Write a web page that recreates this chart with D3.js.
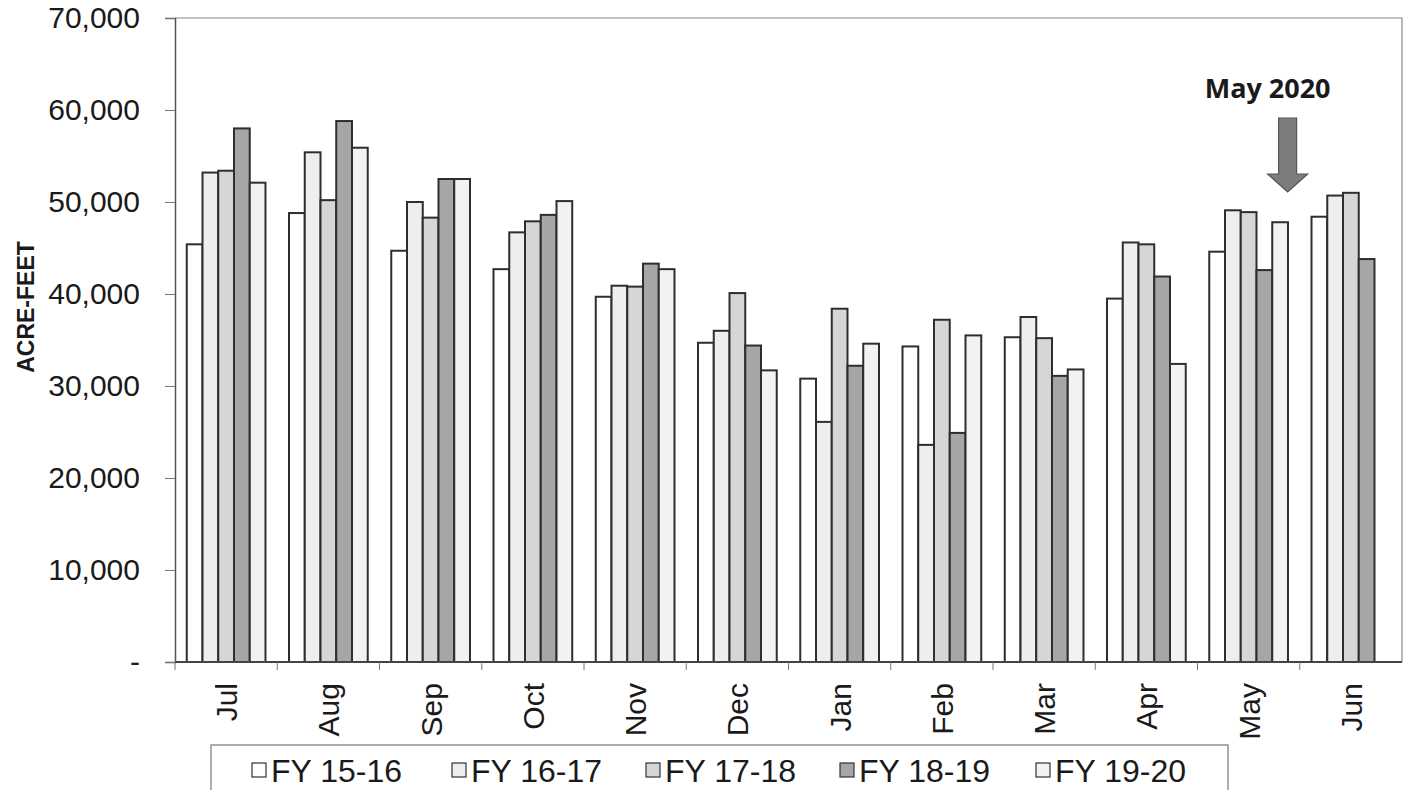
<!DOCTYPE html>
<html>
<head>
<meta charset="utf-8">
<script src="https://cdn.jsdelivr.net/npm/d3@7"></script>
<style>
  html, body { margin: 0; padding: 0; background: #ffffff; }
  svg { display: block; }
</style>
</head>
<body>
<svg id="chart" width="1403" height="790"></svg>
<script>
// Monthly deliveries (acre-feet) by fiscal year
const months = ["Jul", "Aug", "Sep", "Oct", "Nov", "Dec", "Jan", "Feb", "Mar", "Apr", "May", "Jun"];
const seriesNames = ["FY 15-16", "FY 16-17", "FY 17-18", "FY 18-19", "FY 19-20"];
const fy1516 = [45400, 48800, 44700, 42700, 39700, 34700, 30800, 34300, 35300, 39500, 44600, 48400];
const fy1617 = [53200, 55400, 50000, 46700, 40900, 36000, 26100, 23600, 37500, 45600, 49100, 50700];
const fy1718 = [53400, 50200, 48300, 47900, 40800, 40100, 38400, 37200, 35200, 45400, 48900, 51000];
const fy1819 = [58000, 58800, 52500, 48600, 43300, 34400, 32200, 24900, 31100, 41900, 42600, 43800];
const fy1920 = [52100, 55900, 52500, 50100, 42700, 31700, 34600, 35500, 31800, 32400, 47800, null];
const yTicks = [0, 10000, 20000, 30000, 40000, 50000, 60000, 70000];
const fills = ["#ffffff", "#eeeeee", "#d6d6d6", "#a6a6a6", "#f2f2f2"];

const seriesValues = [fy1516, fy1617, fy1718, fy1819, fy1920];

const svg = d3.select("#chart");
const margin = { left: 175, top: 18, right: 1402, bottom: 662 };
const font = "Liberation Sans, Arial, sans-serif";

const x = d3.scaleBand().domain(months).range([margin.left, margin.right]).paddingInner(0.23).paddingOuter(0.115);
const xFull = d3.scaleBand().domain(months).range([margin.left, margin.right]);
const xs = d3.scaleBand().domain(seriesNames).range([0, x.bandwidth()]);
const y = d3.scaleLinear().domain([0, 70000]).range([margin.bottom, margin.top]);

// plot frame (top and right edges)
svg.append("path")
  .attr("d", `M${margin.left},${margin.top}H${margin.right}V${margin.bottom}`)
  .attr("fill", "none").attr("stroke", "#8a8a8a").attr("stroke-width", 1.2);

// bars
const groups = svg.append("g").selectAll("g")
  .data(months).join("g")
  .attr("transform", m => `translate(${x(m)},0)`);

groups.selectAll("rect")
  .data((m, i) => seriesNames.map((s, j) => ({ s, j, v: seriesValues[j][i] })).filter(d => d.v != null))
  .join("rect")
  .attr("x", d => xs(d.s))
  .attr("y", d => y(d.v))
  .attr("width", xs.bandwidth())
  .attr("height", d => y(0) - y(d.v))
  .attr("fill", d => fills[d.j])
  .attr("stroke", "#2e2e2e")
  .attr("stroke-width", 2);

// y axis
const yAxis = d3.axisLeft(y).tickValues(yTicks).tickSize(10).tickPadding(25)
  .tickFormat(v => v === 0 ? "-" : d3.format(",")(v));
const gy = svg.append("g").attr("transform", `translate(${margin.left},0)`).call(yAxis);
gy.select(".domain").attr("stroke", "#555").attr("stroke-width", 1.5);
gy.selectAll(".tick line").attr("stroke", "#777");
gy.selectAll("text").attr("font-family", font)
  .attr("font-size", 30).attr("fill", "#1a1a1a");

// x axis: ticks on category boundaries
const gx = svg.append("g").attr("transform", `translate(0,${margin.bottom})`);
gx.append("line").attr("x1", margin.left).attr("x2", margin.right)
  .attr("stroke", "#444").attr("stroke-width", 2);
gx.selectAll(".tk").data(months).join("line").attr("class", "tk")
  .attr("x1", m => xFull(m)).attr("x2", m => xFull(m))
  .attr("y1", 0).attr("y2", 8).attr("stroke", "#777");
gx.selectAll(".lbl").data(months).join("text").attr("class", "lbl")
  .attr("transform", m => `translate(${xFull(m) + xFull.bandwidth() / 2 + 11},21) rotate(-90)`)
  .attr("text-anchor", "end")
  .attr("font-family", font)
  .attr("font-size", 30).attr("fill", "#1a1a1a")
  .text(m => m);

// y axis title
svg.append("text")
  .attr("transform", "translate(34,307) rotate(-90)")
  .attr("text-anchor", "middle")
  .attr("font-family", font)
  .attr("font-weight", "bold").attr("font-size", 23).attr("fill", "#1a1a1a")
  .text("ACRE-FEET");

// annotation: current month marker
const ax = xFull("May") + xFull.bandwidth() / 2 + 39;
svg.append("text")
  .attr("x", ax - 20).attr("y", 98)
  .attr("text-anchor", "middle")
  .attr("font-family", "Open Sans, Lato, sans-serif")
  .attr("font-weight", "bold").attr("font-size", 27).attr("fill", "#1a1a1a")
  .text("May 2020");
svg.append("path")
  .attr("d", `M${ax - 9},118 H${ax + 9} V174 H${ax + 20} L${ax},192 L${ax - 20},174 H${ax - 9} Z`)
  .attr("fill", "#7d7d7d").attr("stroke", "#555").attr("stroke-width", 1.2);

// legend
const legend = svg.append("g");
legend.append("rect").attr("x", 211).attr("y", 745).attr("width", 1017).attr("height", 60)
  .attr("fill", "#fff").attr("stroke", "#777").attr("stroke-width", 1.2);
const legendX = [259, 459, 653, 847, 1043];
const li = legend.selectAll("g").data(seriesNames).join("g")
  .attr("transform", (d, i) => `translate(${legendX[i]},770)`);
li.append("rect").attr("x", -7).attr("y", -7).attr("width", 14).attr("height", 14)
  .attr("fill", (d, i) => fills[i]).attr("stroke", "#333").attr("stroke-width", 1.2);
li.append("text").attr("x", 12).attr("y", 12)
  .attr("font-family", font)
  .attr("font-size", 32).attr("fill", "#1a1a1a")
  .text(d => d);
</script>
</body>
</html>
